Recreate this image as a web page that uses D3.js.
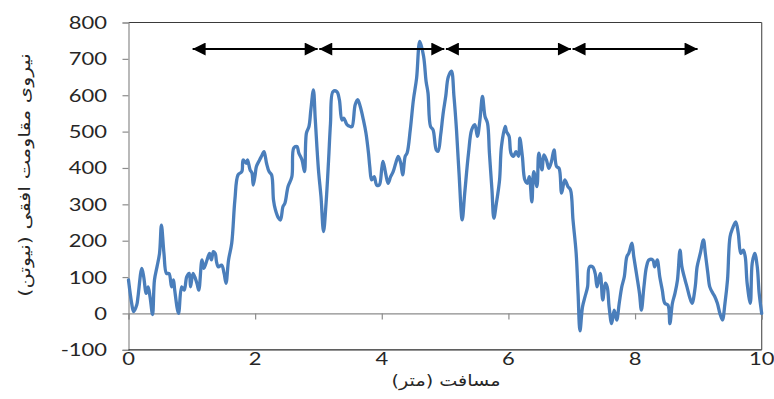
<!DOCTYPE html>
<html>
<head>
<meta charset="utf-8">
<script src="https://cdn.jsdelivr.net/npm/d3@7"></script>
<style>
  html, body { margin: 0; padding: 0; background: #fff; }
  svg { display: block; }
</style>
</head>
<body>
<svg id="chart" width="774" height="399"></svg>
<script>
// Horizontal resistance force measured along the track
const distance = [
  0.00, 0.05, 0.08, 0.13, 0.15, 0.21, 0.24, 0.28, 0.31, 0.34, 0.38, 0.41, 0.45, 0.49, 0.52, 0.56, 0.60, 0.64,
  0.68, 0.71, 0.73, 0.79, 0.84, 0.88, 0.92, 0.96, 0.98, 1.02, 1.08, 1.11, 1.16, 1.19, 1.24, 1.28, 1.31, 1.34,
  1.37, 1.39, 1.42, 1.47, 1.51, 1.54, 1.58, 1.63, 1.68, 1.73, 1.79, 1.81, 1.86, 1.88, 1.92, 1.95, 1.97, 2.00,
  2.02, 2.07, 2.10, 2.14, 2.18, 2.22, 2.26, 2.29, 2.32, 2.37, 2.40, 2.44, 2.47, 2.52, 2.58, 2.61, 2.66, 2.69,
  2.74, 2.78, 2.81, 2.85, 2.88, 2.92, 2.95, 3.00, 3.04, 3.08, 3.12, 3.16, 3.19, 3.23, 3.29, 3.33, 3.37, 3.40,
  3.45, 3.50, 3.53, 3.58, 3.62, 3.66, 3.71, 3.75, 3.79, 3.81, 3.84, 3.88, 3.92, 3.96, 4.00, 4.02, 4.06, 4.10,
  4.14, 4.18, 4.22, 4.26, 4.30, 4.33, 4.37, 4.40, 4.45, 4.50, 4.55, 4.60, 4.66, 4.70, 4.73, 4.77, 4.81, 4.86,
  4.89, 4.93, 4.97, 5.01, 5.05, 5.10, 5.14, 5.18, 5.22, 5.27, 5.31, 5.37, 5.42, 5.47, 5.51, 5.55, 5.59, 5.63,
  5.67, 5.70, 5.74, 5.77, 5.81, 5.86, 5.89, 5.95, 5.97, 6.01, 6.04, 6.08, 6.12, 6.16, 6.18, 6.22, 6.26, 6.30,
  6.33, 6.37, 6.40, 6.45, 6.48, 6.53, 6.56, 6.60, 6.64, 6.68, 6.72, 6.76, 6.80, 6.84, 6.89, 6.94, 6.98, 7.02,
  7.07, 7.10, 7.13, 7.17, 7.21, 7.25, 7.28, 7.33, 7.37, 7.40, 7.45, 7.49, 7.53, 7.56, 7.59, 7.63, 7.67, 7.71,
  7.75, 7.79, 7.83, 7.87, 7.90, 7.95, 7.98, 8.03, 8.07, 8.10, 8.14, 8.18, 8.22, 8.28, 8.31, 8.35, 8.39, 8.43,
  8.47, 8.52, 8.55, 8.59, 8.63, 8.67, 8.71, 8.74, 8.79, 8.82, 8.86, 8.90, 8.95, 8.98, 9.03, 9.08, 9.11, 9.15,
  9.18, 9.23, 9.26, 9.30, 9.34, 9.38, 9.42, 9.46, 9.50, 9.54, 9.59, 9.63, 9.67, 9.71, 9.74, 9.77, 9.82, 9.85,
  9.89, 9.93, 9.96, 10.00
];
const force = [
  92, 28, 5, 23, 46, 124, 101, 55, 73, 46, -3, 92, 128, 165, 243, 165, 110, 110,
  73, 92, 64, 0, 73, 64, 101, 110, 73, 110, 83, 64, 147, 124, 147, 165, 147, 170,
  165, 142, 128, 133, 110, 83, 147, 193, 312, 381, 390, 422, 413, 422, 395, 386, 353, 381,
  404, 422, 432, 445, 413, 390, 381, 312, 285, 262, 257, 294, 303, 349, 376, 455, 459, 441,
  422, 390, 496, 514, 560, 615, 532, 395, 321, 225, 303, 422, 523, 610, 610, 588, 532, 537,
  519, 514, 514, 574, 588, 569, 532, 496, 441, 404, 367, 376, 353, 353, 399, 418, 386, 358,
  376, 390, 413, 432, 413, 381, 432, 441, 505, 588, 647, 748, 707, 638, 606, 514, 505, 450,
  446, 491, 551, 597, 650, 666, 597, 505, 386, 257, 331, 441, 505, 519, 487, 532, 597, 542,
  523, 441, 340, 262, 303, 367, 459, 514, 500, 487, 441, 432, 445, 432, 482, 432, 367, 358,
  376, 307, 390, 349, 441, 395, 436, 422, 399, 418, 450, 404, 399, 331, 367, 349, 340, 257,
  165, 55, -48, 18, 46, 73, 128, 128, 110, 73, 110, 37, 83, 73, 18, -28, 9, -18,
  28, 73, 101, 156, 165, 193, 156, 101, 55, 9, 73, 128, 147, 147, 128, 147, 101, 64,
  28, 23, -28, 28, 55, 92, 174, 128, 92, 73, 46, 28, 73, 128, 165, 202, 165, 110,
  73, 55, 46, 28, 0, -18, 28, 92, 211, 234, 252, 220, 165, 174, 156, 83, 28, 138,
  165, 128, 55, 0
];

// Double-headed arrows marking the 2 m sections
const sectionStart = [1, 3, 5, 7];
const sectionEnd = [3, 5, 7, 9];
const sectionLevel = 727;

const xTicks = [0, 2, 4, 6, 8, 10];
const yTicks = [-100, 0, 100, 200, 300, 400, 500, 600, 700, 800];
const xTitle = "مسافت (متر)";
const yTitle = "نیروی مقاومت افقی (نیوتن)";

const svg = d3.select("#chart");
const plotLeft = 128.5, plotRight = 761.7, plotTop = 22.5, plotBottom = 349.8;

const x = d3.scaleLinear().domain([0, 10]).range([plotLeft, plotRight]);
const y = d3.scaleLinear().domain([-100, 800]).range([plotBottom, plotTop]);

const tickFont = "Lato, 'Liberation Sans', sans-serif";
const stretch = 1.22;

// Plot frame
svg.append("line").attr("x1", plotLeft).attr("x2", plotRight).attr("y1", plotTop).attr("y2", plotTop)
  .attr("stroke", "#3a3a3a").attr("stroke-width", 1.2);
svg.append("line").attr("x1", plotRight).attr("x2", plotRight).attr("y1", plotTop).attr("y2", plotBottom)
  .attr("stroke", "#5a5a5a").attr("stroke-width", 1.2);

// Zero line with tick marks below it
const zeroAxis = d3.axisBottom(x).tickValues(xTicks).tickSize(6).tickFormat("");
svg.append("g").attr("transform", `translate(0,${y(0)})`).call(zeroAxis)
  .call(g => g.selectAll("path, line").attr("stroke", "#8c8c8c").attr("stroke-width", 1.2));

// Left axis
const yAxis = d3.axisLeft(y).tickValues(yTicks).tickSize(6).tickFormat("");
svg.append("g").attr("transform", `translate(${plotLeft},0)`).call(yAxis)
  .call(g => g.selectAll("path, line").attr("stroke", "#8c8c8c").attr("stroke-width", 1.2));

// Bottom edge at -100
svg.append("line").attr("x1", plotLeft).attr("x2", plotRight).attr("y1", plotBottom).attr("y2", plotBottom)
  .attr("stroke", "#2a2a2a").attr("stroke-width", 1.2);

// Tick labels
svg.append("g").selectAll("text").data(yTicks).join("text")
  .attr("transform", d => `translate(107,${y(d) + 6.5}) scale(${stretch},1)`)
  .attr("text-anchor", "end")
  .attr("font-family", tickFont).attr("font-size", 18).attr("fill", "#262626")
  .text(d => d);

svg.append("g").selectAll("text").data(xTicks).join("text")
  .attr("transform", d => `translate(${x(d)},${plotBottom + 15}) scale(${stretch},1)`)
  .attr("text-anchor", "middle")
  .attr("font-family", tickFont).attr("font-size", 18).attr("fill", "#262626")
  .text(d => d);

// Force trace
const pts = distance.map((d, i) => [d, force[i]]);
svg.append("path").datum(pts)
  .attr("d", d3.line().x(d => x(d[0])).y(d => y(d[1])).curve(d3.curveCatmullRom.alpha(0.5)))
  .attr("fill", "none").attr("stroke", "#4a7ebb").attr("stroke-width", 3.3)
  .attr("stroke-linejoin", "round").attr("stroke-linecap", "round");

// Arrow heads
const defs = svg.append("defs");
defs.append("marker").attr("id", "headEnd").attr("viewBox", "0 0 10 10")
  .attr("refX", 10).attr("refY", 5).attr("markerWidth", 7).attr("markerHeight", 6.5)
  .attr("orient", "auto").attr("markerUnits", "strokeWidth")
  .append("path").attr("d", "M0,0 L10,5 L0,10 Z").attr("fill", "#000");
defs.append("marker").attr("id", "headStart").attr("viewBox", "0 0 10 10")
  .attr("refX", 0).attr("refY", 5).attr("markerWidth", 7).attr("markerHeight", 6.5)
  .attr("orient", "auto").attr("markerUnits", "strokeWidth")
  .append("path").attr("d", "M10,0 L0,5 L10,10 Z").attr("fill", "#000");

svg.append("g").selectAll("line").data(sectionStart).join("line")
  .attr("x1", (d) => x(d) + 0.8)
  .attr("x2", (d, i) => x(sectionEnd[i]) - 0.8)
  .attr("y1", y(sectionLevel)).attr("y2", y(sectionLevel))
  .attr("stroke", "#000").attr("stroke-width", 2)
  .attr("marker-start", "url(#headStart)").attr("marker-end", "url(#headEnd)");

// Axis titles
svg.append("text")
  .attr("transform", `translate(446,386) scale(1.2,1)`)
  .attr("text-anchor", "middle")
  .attr("font-family", "'DejaVu Sans', sans-serif").attr("font-size", 16).attr("fill", "#262626")
  .attr("direction", "rtl")
  .text(xTitle);

svg.append("text")
  .attr("transform", `translate(30,175) rotate(-90) scale(1.3,1)`)
  .attr("text-anchor", "middle")
  .attr("font-family", "'DejaVu Sans', sans-serif").attr("font-size", 16).attr("fill", "#262626")
  .attr("direction", "rtl")
  .text(yTitle);
</script>
</body>
</html>
